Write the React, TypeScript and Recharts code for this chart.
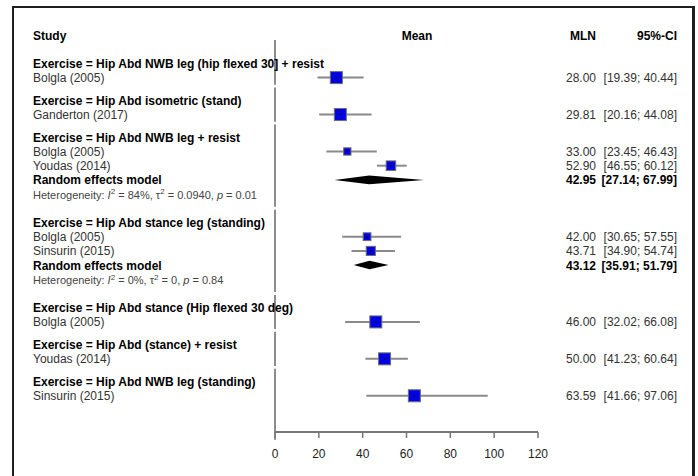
import { ComposedChart, Scatter, ErrorBar, XAxis, YAxis, ReferenceLine, ReferenceArea } from 'recharts';

const groupNames = [
  'Hip Abd NWB leg (hip flexed 30] + resist',
  'Hip Abd isometric (stand)',
  'Hip Abd NWB leg + resist',
  'Hip Abd stance leg (standing)',
  'Hip Abd stance (Hip flexed 30 deg)',
  'Hip Abd (stance) + resist',
  'Hip Abd NWB leg (standing)',
];

const studyNames = [
  'Bolgla (2005)', 'Ganderton (2017)', 'Bolgla (2005)', 'Youdas (2014)', 'Bolgla (2005)',
  'Sinsurin (2015)', 'Bolgla (2005)', 'Youdas (2014)', 'Sinsurin (2015)',
];
const studyGroup = [0, 1, 2, 2, 3, 3, 4, 5, 6];
const studyMean = [28.0, 29.81, 33.0, 52.9, 42.0, 43.71, 46.0, 50.0, 63.59];
const studyLower = [19.39, 20.16, 23.45, 46.55, 30.65, 34.9, 32.02, 41.23, 41.66];
const studyUpper = [40.44, 44.08, 46.43, 60.12, 57.55, 54.74, 66.08, 60.64, 97.06];
// weight within subgroup (%), drives box size
const studyWeight = [100, 100, 37, 63, 42, 58, 100, 100, 100];

const reGroup = [2, 3];
const reMean = [42.95, 43.12];
const reLower = [27.14, 35.91];
const reUpper = [67.99, 51.79];
const hetI2 = ['84%', '0%'];
const hetTau2 = ['0.0940', '0'];
const hetP = ['0.01', '0.84'];

const xTicks = [0, 20, 40, 60, 80, 100, 120];

const FONT = 'Arial, "Liberation Sans", Helvetica, sans-serif';
const fmt = (v: number) => v.toFixed(2);

// row layout (in row units, top to bottom)
type Row = { kind: 'top' | 'header' | 'study' | 're' | 'het'; y: number; idx: number; x: number };
const rows: Row[] = [{ kind: 'top', y: 0, idx: 0, x: 0 }];
const groupTop: number[] = [];
let r = 2;
groupNames.forEach((_, g) => {
  groupTop.push(r);
  rows.push({ kind: 'header', y: r, idx: g, x: 0 });
  r += 1;
  studyGroup.forEach((sg, i) => {
    if (sg === g) {
      rows.push({ kind: 'study', y: r, idx: i, x: 0 });
      r += 1;
    }
  });
  const k = reGroup.indexOf(g);
  if (k >= 0) {
    rows.push({ kind: 're', y: r, idx: k, x: 0 });
    r += 1.05;
    rows.push({ kind: 'het', y: r, idx: k, x: 0 });
    r += 1.95;
  } else {
    r += 0.6;
  }
});
const rowOf = (kind: string, idx: number) => rows.find((w) => w.kind === kind && w.idx === idx)!.y;
const lastStudyRow = rowOf('study', studyNames.length - 1);
const yMax = lastStudyRow + 2.55;

const studyData = studyNames.map((_, i) => ({
  x: studyMean[i],
  y: rowOf('study', i),
  ci: [studyMean[i] - studyLower[i], studyUpper[i] - studyMean[i]],
  w: studyWeight[i],
}));

const zeroSegments = groupNames.map((_, g) => {
  const a = g === 0 ? 0.35 : groupTop[g] - 1.0 + 0.1;
  const b = g < groupNames.length - 1 ? groupTop[g + 1] - 1.0 - 0.1 : yMax + 0.55;
  return [a, b];
});

const Box = (p: any) => {
  const s = 12 * Math.sqrt(p.payload.w / 100);
  return (
    <g>
      <rect x={p.cx - s / 2} y={p.cy - s / 2} width={s} height={s} fill="#0000e6" stroke="#6e6e6e" strokeWidth={1} />
      <circle cx={p.cx} cy={p.cy} r={0.9} fill="#000" />
    </g>
  );
};

const diamond = (k: number) => (p: any) => {
  const { x, y, width, height } = p;
  const ex = x + ((reMean[k] - reLower[k]) / (reUpper[k] - reLower[k])) * width;
  const my = y + height / 2;
  return <polygon points={`${x},${my} ${ex},${y} ${x + width},${my} ${ex},${y + height}`} fill="#000" />;
};

const NAME_X = 33;
const MLN_X = 596;
const CI_X = 677;

const Label = (p: any) => {
  const row: Row = p.payload;
  const y = p.cy + 4.5;
  const base = { fontFamily: FONT, fontSize: 12 };
  if (row.kind === 'top') {
    return (
      <g {...base} fontWeight="bold" fill="#000">
        <text x={NAME_X} y={y}>Study</text>
        <text x={417} y={y} textAnchor="middle">Mean</text>
        <text x={MLN_X} y={y} textAnchor="end">MLN</text>
        <text x={CI_X} y={y} textAnchor="end">95%-CI</text>
      </g>
    );
  }
  if (row.kind === 'header') {
    return (
      <text {...base} x={NAME_X} y={y} fontWeight="bold" fill="#000">
        {'Exercise = ' + groupNames[row.idx]}
      </text>
    );
  }
  if (row.kind === 'study') {
    const i = row.idx;
    return (
      <g {...base} fill="#333">
        <text x={NAME_X} y={y}>{studyNames[i]}</text>
        <text x={MLN_X} y={y} textAnchor="end">{fmt(studyMean[i])}</text>
        <text x={CI_X} y={y} textAnchor="end">{`[${fmt(studyLower[i])}; ${fmt(studyUpper[i])}]`}</text>
      </g>
    );
  }
  if (row.kind === 're') {
    const k = row.idx;
    return (
      <g {...base} fontWeight="bold" fill="#000">
        <text x={NAME_X} y={y}>Random effects model</text>
        <text x={MLN_X} y={y} textAnchor="end">{fmt(reMean[k])}</text>
        <text x={CI_X} y={y} textAnchor="end">{`[${fmt(reLower[k])}; ${fmt(reUpper[k])}]`}</text>
      </g>
    );
  }
  const k = row.idx;
  return (
    <text x={NAME_X} y={p.cy + 4} fontFamily={FONT} fontSize={11} fill="#444">
      Heterogeneity: <tspan fontStyle="italic">I</tspan>
      <tspan dy={-4.5} fontSize={8}>2</tspan>
      <tspan dy={4.5}>{` = ${hetI2[k]}, \u03c4`}</tspan>
      <tspan dy={-4.5} fontSize={8}>2</tspan>
      <tspan dy={4.5}>{` = ${hetTau2[k]}, `}</tspan>
      <tspan fontStyle="italic">p</tspan>
      <tspan>{` = ${hetP[k]}`}</tspan>
    </text>
  );
};

export default function App() {
  return (
    <div style={{ position: 'absolute', left: 0, top: 0, width: 698, height: 476, background: '#fff', overflow: 'hidden' }}>
      <div
        style={{
          position: 'absolute',
          left: 12,
          top: 6,
          width: 678,
          height: 480,
          borderLeft: '2.5px solid #1e1e1e',
          borderTop: '2.5px solid #1e1e1e',
          borderRight: '3px solid #1e1e1e',
        }}
      />
      <ComposedChart
        width={698}
        height={476}
        margin={{ top: 35, right: 160, bottom: 0, left: 275 }}
        style={{ position: 'absolute', left: 0, top: 0 }}
      >
        <XAxis
          type="number"
          dataKey="x"
          domain={[0, 120]}
          ticks={xTicks}
          height={44}
          axisLine={{ stroke: '#777', strokeWidth: 2 }}
          tickLine={{ stroke: '#777', strokeWidth: 1.5 }}
          tickSize={6}
          tickMargin={11}
          tick={{ fontSize: 12, fill: '#222', fontFamily: FONT }}
        />
        <YAxis type="number" dataKey="y" domain={[0, yMax]} reversed hide />
        {zeroSegments.map(([a, b], g) => (
          <ReferenceLine
            key={g}
            segment={[{ x: 0, y: a }, { x: 0, y: b }]}
            stroke="#666"
            strokeWidth={1.5}
            ifOverflow="visible"
          />
        ))}
        {reGroup.map((_, k) => (
          <ReferenceArea
            key={k}
            x1={reLower[k]}
            x2={reUpper[k]}
            y1={rowOf('re', k) - 0.3}
            y2={rowOf('re', k) + 0.3}
            shape={diamond(k)}
            ifOverflow="visible"
          />
        ))}
        <Scatter data={studyData} shape={Box} isAnimationActive={false}>
          <ErrorBar dataKey="ci" direction="x" width={0} stroke="#8a8a8a" strokeWidth={2} isAnimationActive={false} />
        </Scatter>
        <Scatter data={rows} shape={Label} isAnimationActive={false} />
      </ComposedChart>
    </div>
  );
}
